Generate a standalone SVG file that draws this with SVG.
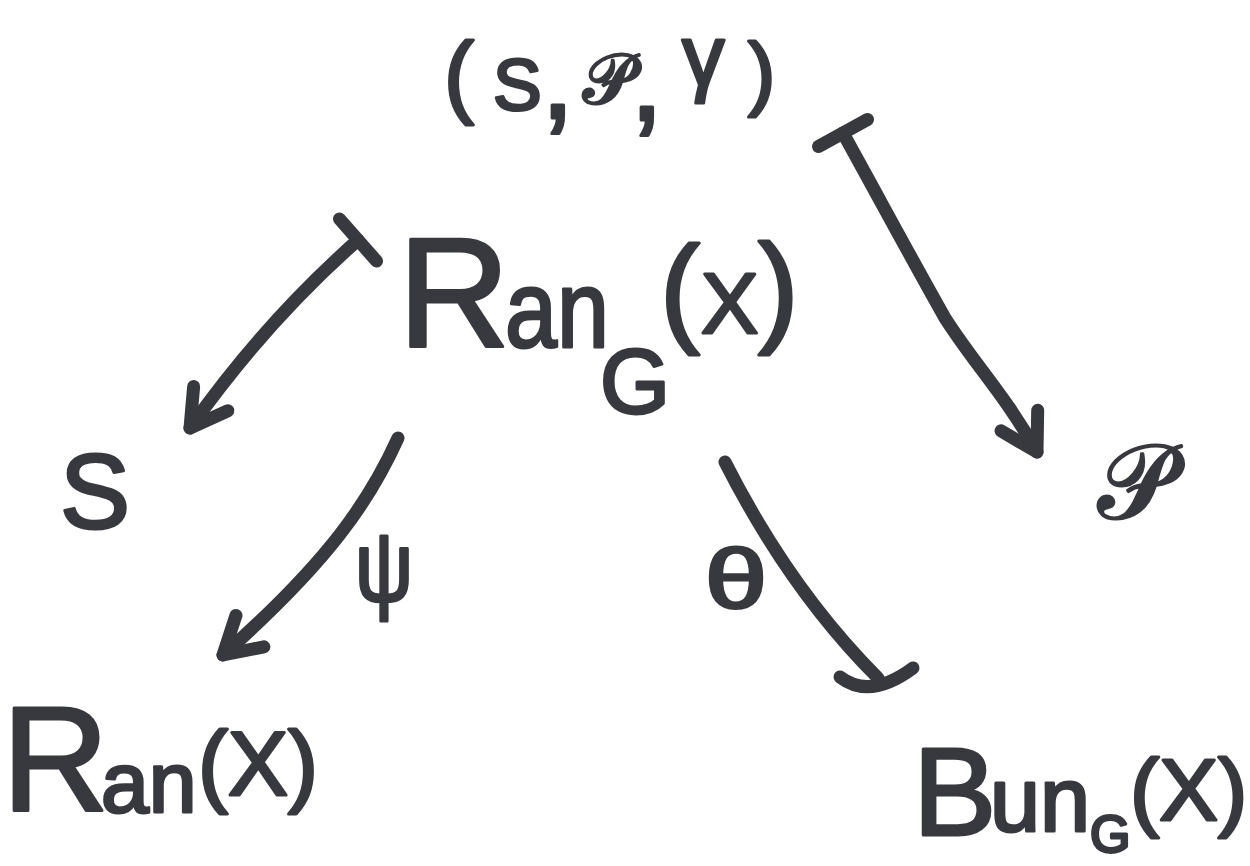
<svg xmlns="http://www.w3.org/2000/svg" width="1250" height="866" viewBox="0 0 1250 866">
<style>
.t{font-family:"Liberation Sans","DejaVu Sans",sans-serif;fill:#38383f;stroke:#38383f;stroke-width:3;stroke-linejoin:round}
.c{fill:none;stroke:#38383f;stroke-width:13;stroke-linecap:round;stroke-linejoin:round}
</style>
<defs>
<marker id="arr" markerUnits="userSpaceOnUse" viewBox="-60 -40 80 80" refX="0" refY="0" markerWidth="80" markerHeight="80" orient="auto" overflow="visible">
<path d="M-36,-21 L0,0 L-36,21" fill="none" stroke="#38383f" stroke-width="13" stroke-linecap="round" stroke-linejoin="round"/>
</marker>
<marker id="bar" markerUnits="userSpaceOnUse" viewBox="-40 -40 80 80" refX="0" refY="0" markerWidth="80" markerHeight="80" orient="auto" overflow="visible">
<path d="M0,-28 L0,28" fill="none" stroke="#38383f" stroke-width="13" stroke-linecap="round"/>
</marker>
</defs>
<rect width="1250" height="866" fill="#ffffff"/>
<g id="connectors">
<path id="e-rang-s" class="c" d="M358,240 Q265,322 190,428" marker-start="url(#bar)" marker-end="url(#arr)"/>
<path id="e-tuple-p" class="c" d="M843,133 C880,200 915,265 945,318 C975,365 1005,395 1037,452" marker-start="url(#bar)" marker-end="url(#arr)"/>
<path id="e-psi" class="c" d="M398,438 C370,500 330,560 223,655" marker-end="url(#arr)"/>
<path id="e-theta" class="c" d="M725,462 Q790,590 878,678"/>
<path id="e-theta-bar" class="c" d="M840,677 Q870,700 913,668"/>
</g>
<g id="n-tuple">
<text class="t"><tspan x="444" y="106" font-size="90">(</tspan><tspan x="493" y="110" font-size="73">S</tspan><tspan x="541" y="118" font-size="120">,</tspan><tspan x="583" y="103" font-size="70">𝒫</tspan><tspan x="630" y="120" font-size="120">,</tspan><tspan x="682" y="85" font-size="85">γ</tspan><tspan x="748" y="100" font-size="82">)</tspan></text>
</g>
<g id="n-rang">
<text class="t"><tspan x="398" y="347" font-size="155">R</tspan><tspan x="505" y="347" font-size="110" textLength="104" lengthAdjust="spacingAndGlyphs">an</tspan><tspan x="600" y="413" font-size="90">G</tspan><tspan x="660" y="330" font-size="120">(</tspan><tspan x="701" y="333" font-size="86">X</tspan><tspan x="758" y="330" font-size="122">)</tspan></text>
</g>
<g id="n-s">
<text class="t" x="60" y="528" font-size="105">S</text>
</g>
<g id="n-p">
<text class="t" x="1098" y="518" font-size="104">𝒫</text>
</g>
<g id="n-ran">
<text class="t"><tspan x="2" y="810" font-size="148">R</tspan><tspan x="101" y="812" font-size="86">an</tspan><tspan x="198" y="795" font-size="90">(X)</tspan></text>
</g>
<g id="n-bun">
<text class="t"><tspan x="913" y="835" font-size="125">B</tspan><tspan x="990" y="831" font-size="90">un</tspan><tspan x="1090" y="852" font-size="52">G</tspan><tspan x="1130" y="820" font-size="88">(X)</tspan></text>
</g>
<g id="l-psi">
<text class="t" x="355" y="601" font-size="98" textLength="58" lengthAdjust="spacingAndGlyphs">ψ</text>
</g>
<g id="l-theta">
<text class="t" x="705" y="608" font-size="84" textLength="62" lengthAdjust="spacingAndGlyphs">θ</text>
</g>
</svg>
